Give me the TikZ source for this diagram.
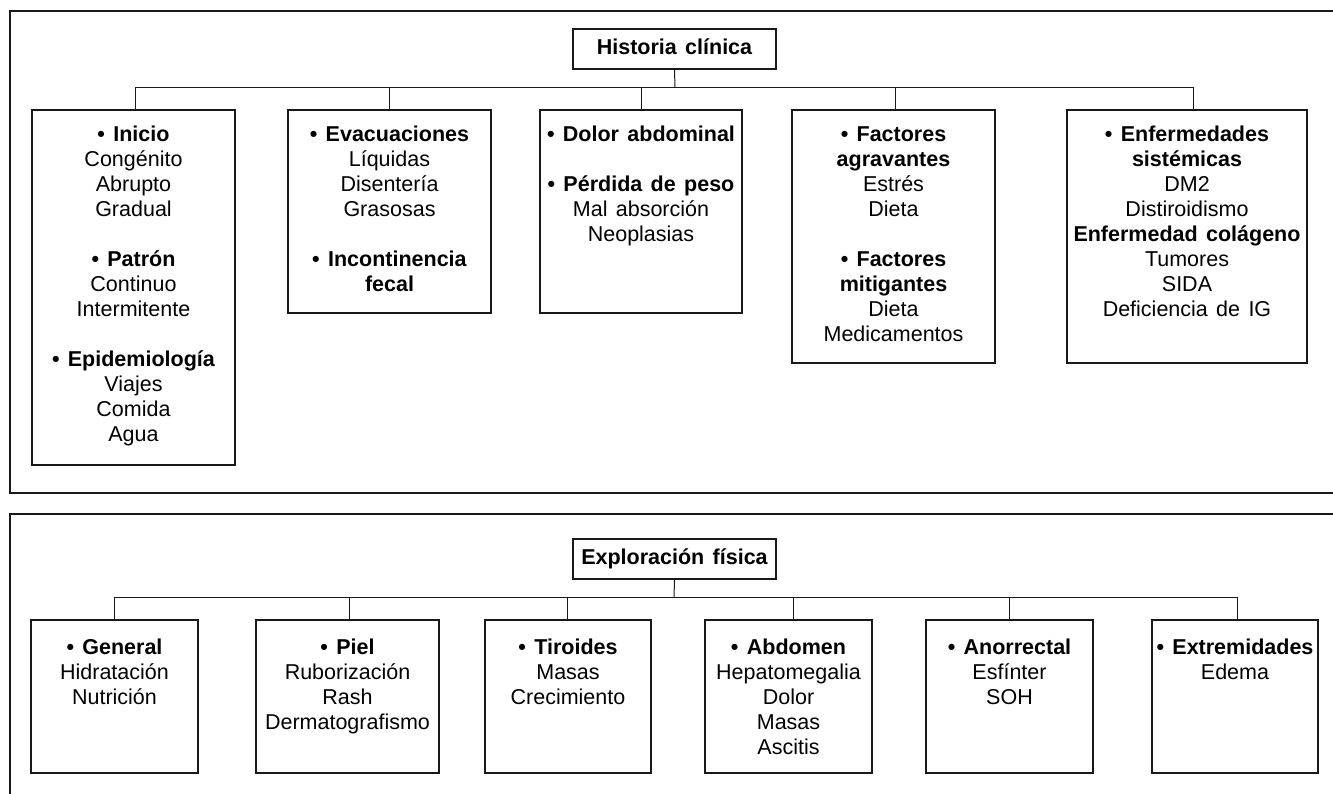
\documentclass[tikz,border=0pt]{standalone}
\usepackage{fontspec}
\setmainfont{Liberation Sans}[WordSpace=1.4]
\begin{document}
\begin{tikzpicture}[x=1pt,y=-1pt,
  panel/.style={line width=1.2pt, draw=black!90},
  rootbox/.style={draw=black!90, line width=1.1pt, minimum width=203pt, minimum height=40pt, inner sep=0pt,
    text height=11pt, text depth=0pt, font=\fontsize{21.5}{25}\selectfont\bfseries},
  itembox/.style={draw=black!90, line width=1.1pt, inner sep=0pt},
  itemtext/.style={anchor=north, inner sep=0pt, align=center, font=\fontsize{21.5}{25}\selectfont},
  link/.style={line width=1pt, draw=black!90}]
\useasboundingbox (0,0) rectangle (1333,794);

% panels
\draw[panel] (1335,11) -- (10,11) -- (10,493) -- (1335,493);
\draw[panel] (1335,514) -- (10,514) -- (10,796);

% ---------- Historia clinica ----------
\node[rootbox] (r1) at (674.5,49) {Historia clínica};
\coordinate (h1) at (675,88);

\node[itembox, minimum width=203pt, minimum height=355pt] (b1) at (133.5,287.5) {};
\node[itembox, minimum width=203pt, minimum height=203pt] (b2) at (389.5,211.5) {};
\node[itembox, minimum width=202pt, minimum height=203pt] (b3) at (641,211.5) {};
\node[itembox, minimum width=203pt, minimum height=253pt] (b4) at (893.5,236.5) {};
\node[itembox, minimum width=240pt, minimum height=253pt] (b5) at (1187,236.5) {};

\draw[link] (r1.south) -- (h1);
\draw[link] (h1) -| ([xshift=1.5pt]b1.north);
\draw[link] (h1) -| (b2.north);
\draw[link] (h1) -| (b3.north);
\draw[link] (h1) -| ([xshift=1.5pt]b4.north);
\draw[link] (h1) -| ([xshift=6pt]b5.north);

\node[itemtext] (t1) at ([yshift=-14.5pt]b1.north) {\strut\textbf{• Inicio}\\Congénito\\Abrupto\\Gradual\\[25pt]
  \textbf{• Patrón}\\Continuo\\Intermitente\\[25pt]\textbf{• Epidemiología}\\Viajes\\Comida\\Agua};
\node[itemtext] (t2) at ([yshift=-14.5pt]b2.north) {\strut\textbf{• Evacuaciones}\\Líquidas\\Disentería\\Grasosas\\[25pt]
  \textbf{• Incontinencia}\\\textbf{fecal}};
\node[itemtext] (t3) at ([yshift=-14.5pt]b3.north) {\strut\textbf{• Dolor abdominal}\\[25pt]
  \textbf{• Pérdida de peso}\\Mal absorción\\Neoplasias};
\node[itemtext] (t4) at ([yshift=-14.5pt]b4.north) {\strut\textbf{• Factores}\\\textbf{agravantes}\\Estrés\\Dieta\\[25pt]
  \textbf{• Factores}\\\textbf{mitigantes}\\Dieta\\Medicamentos};
\node[itemtext] (t5) at ([yshift=-14.5pt]b5.north) {\strut\textbf{• Enfermedades}\\\textbf{sistémicas}\\DM2\\Distiroidismo\\
  \textbf{Enfermedad colágeno}\\Tumores\\SIDA\\Deficiencia de IG};

% ---------- Exploracion fisica ----------
\node[rootbox] (r2) at (674.5,559) {Exploración física};
\coordinate (h2) at (674,597);

\node[itembox, minimum width=167pt, minimum height=153pt] (c1) at (114.5,696.5) {};
\node[itembox, minimum width=183pt, minimum height=153pt] (c2) at (347.5,696.5) {};
\node[itembox, minimum width=166pt, minimum height=153pt] (c3) at (568,696.5) {};
\node[itembox, minimum width=167pt, minimum height=153pt] (c4) at (788.5,696.5) {};
\node[itembox, minimum width=167pt, minimum height=153pt] (c5) at (1009.5,696.5) {};
\node[itembox, minimum width=166pt, minimum height=153pt] (c6) at (1235,696.5) {};

\draw[link] (r2.south) -- (h2);
\draw[link] (h2) -| (c1.north);
\draw[link] (h2) -| ([xshift=1.5pt]c2.north);
\draw[link] (h2) -| ([xshift=-1pt]c3.north);
\draw[link] (h2) -| ([xshift=4.5pt]c4.north);
\draw[link] (h2) -| (c5.north);
\draw[link] (h2) -| ([xshift=2pt]c6.north);

\node[itemtext] (u1) at ([yshift=-17.5pt]c1.north) {\strut\textbf{• General}\\Hidratación\\Nutrición};
\node[itemtext] (u2) at ([yshift=-17.5pt]c2.north) {\strut\textbf{• Piel}\\Ruborización\\Rash\\Dermatografismo};
\node[itemtext] (u3) at ([yshift=-17.5pt]c3.north) {\strut\textbf{• Tiroides}\\Masas\\Crecimiento};
\node[itemtext] (u4) at ([yshift=-17.5pt]c4.north) {\strut\textbf{• Abdomen}\\Hepatomegalia\\Dolor\\Masas\\Ascitis};
\node[itemtext] (u5) at ([yshift=-17.5pt]c5.north) {\strut\textbf{• Anorrectal}\\Esfínter\\SOH};
\node[itemtext] (u6) at ([yshift=-17.5pt]c6.north) {\strut\textbf{• Extremidades}\\Edema};
\end{tikzpicture}
\end{document}
